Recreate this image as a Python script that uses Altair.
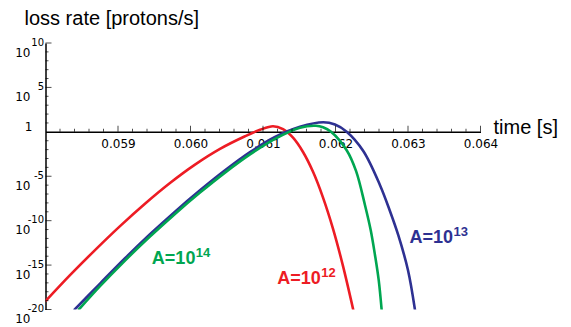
import altair as alt
import pandas as pd

# ---- data (time in s, loss rate as log10 exponent) ----
red_t = [0.058000, 0.058338, 0.058683, 0.059028, 0.059372, 0.059717, 0.060062, 0.060407,
         0.060752, 0.060959, 0.061138, 0.061276, 0.061414, 0.061552, 0.061690, 0.061828,
         0.061966, 0.062103, 0.062246]
red_e = [-19.07, -16.14, -13.31, -10.61, -8.09, -5.76, -3.69, -1.92,
         -0.50, 0.23, 0.63, 0.30, -0.66, -2.27, -4.50, -7.40,
         -10.92, -15.09, -20.08]

blue_t = [0.058393, 0.058752, 0.059097, 0.059441, 0.059786, 0.060131, 0.060476, 0.060821,
          0.061166, 0.061510, 0.061832, 0.061993, 0.062154, 0.062383, 0.062614,
          0.062752, 0.062866, 0.063000, 0.063097]
blue_e = [-20.08, -17.08, -14.23, -11.53, -8.98, -6.58, -4.33, -2.28,
          -0.58, 0.57, 1.08, 0.82, 0.01, -2.16, -6.01,
          -8.94, -11.64, -15.58, -20.08]

green_t = [0.058452, 0.058752, 0.059097, 0.059441, 0.059786, 0.060131, 0.060476, 0.060821,
           0.061166, 0.061510, 0.061731, 0.061828, 0.061938, 0.062154, 0.062283,
           0.062407, 0.062486, 0.062545, 0.062596, 0.062637]
green_e = [-20.08, -17.38, -14.49, -11.79, -9.24, -6.84, -4.59, -2.54,
           -0.79, 0.46, 0.68, 0.51, 0.01, -2.07, -4.40,
           -8.26, -11.08, -13.89, -16.70, -20.08]

series_names = ["A=1e12", "A=1e13", "A=1e14"]
series_colors = ["#ED1C24", "#2E3192", "#00A651"]

ann_t = [0.0611975, 0.0630207, 0.0594670]
ann_e = [-17.08, -12.51, -14.83]
ann_sup = ["12", "13", "14"]

x_major = [0.059, 0.060, 0.061, 0.062, 0.063, 0.064]
y_major_exp = [10, 5, -5, -10, -15, -20]

# ---- build tables ----
rows = []
for name, ts, es in zip(series_names, [red_t, blue_t, green_t], [red_e, blue_e, green_e]):
    for i, (t, e) in enumerate(zip(ts, es)):
        rows.append({"series": name, "t": t, "v": 10.0 ** e, "i": i})
curves = pd.DataFrame(rows)

ann = pd.DataFrame({"series": series_names, "t": ann_t,
                    "v": [10.0 ** e for e in ann_e], "sup": ann_sup})

xmaj = pd.DataFrame({"t": x_major})
xmin = pd.DataFrame({"t": [round(0.058 + 0.0002 * k, 4) for k in range(1, 30) if k % 5 != 0]})
ymaj = pd.DataFrame({"v": [10.0 ** e for e in y_major_exp], "e": [str(e) for e in y_major_exp]})
ymin = pd.DataFrame({"v": [10.0 ** e for e in range(-19, 10) if e % 5 != 0]})

W, H = 435, 266.5
xs = alt.Scale(domain=[0.058, 0.064], nice=False, zero=False)
ys = alt.Scale(type="log", domain=[1e-20, 1e10], nice=False)
cs = alt.Scale(domain=series_names, range=series_colors)

xax = alt.Axis(
    values=x_major, format=".3f", orient="bottom", offset=-(H * 2 / 3),
    ticks=False, tickSize=0, labelPadding=7, labelFlush=False, labelOverlap=False,
    labelFont="DejaVu Sans", labelFontSize=12, labelColor="black",
    domainColor="black", domainWidth=1.5, grid=False,
    title="time [s]", titleFont="Liberation Sans", titleFontSize=20,
    titleFontWeight="normal", titleColor="black", titleAlign="left",
    titleBaseline="alphabetic", titleX=447.5, titleY=2)
yax = alt.Axis(
    orient="left", ticks=False, labels=False, domainColor="black", domainWidth=1.5,
    grid=False, title="loss rate [protons/s]", titleFont="Liberation Sans",
    titleFontSize=20, titleFontWeight="normal", titleColor="black", titleAngle=0,
    titleAlign="left", titleBaseline="alphabetic", titleX=-21.5, titleY=-19)

X = lambda: alt.X("t:Q", scale=xs, axis=xax)
Y = lambda: alt.Y("v:Q", scale=ys, axis=yax)
X0 = lambda: alt.datum(0.058, scale=xs, axis=xax)
Y1 = lambda: alt.datum(1, scale=ys, axis=yax)

lines = alt.Chart(curves).mark_line(strokeWidth=2.6, interpolate="catmull-rom", clip=True).encode(
    x=X(), y=Y(),
    color=alt.Color("series:N", scale=cs, legend=None),
    detail="series:N",
    order="i:Q",
)

xt_major = alt.Chart(xmaj).mark_tick(orient="vertical", size=6, thickness=1, yOffset=-3, color="black").encode(
    x=X(), y=Y1())
xt_minor = alt.Chart(xmin).mark_tick(orient="vertical", size=3, thickness=1, yOffset=-1.5, color="black").encode(
    x=X(), y=Y1())
yt_major = alt.Chart(ymaj).mark_tick(orient="horizontal", size=6, thickness=1, xOffset=3, color="black").encode(
    y=Y(), x=X0())
yt_minor = alt.Chart(ymin).mark_tick(orient="horizontal", size=3, thickness=1, xOffset=1.5, color="black").encode(
    y=Y(), x=X0())

ylab_base = alt.Chart(ymaj).mark_text(align="right", baseline="middle", dx=-15, dy=9.5,
                                      font="DejaVu Sans", fontSize=12, color="black").encode(
    y=Y(), x=X0(), text=alt.value("10"))
ylab_sup = alt.Chart(ymaj).mark_text(align="right", baseline="middle", dx=-1.5, dy=-0.5,
                                     font="DejaVu Sans", fontSize=10, color="black").encode(
    y=Y(), x=X0(), text="e:N")
ylab_one = alt.Chart(pd.DataFrame({"v": [1.0]})).mark_text(
    align="right", baseline="middle", dx=-13, dy=-4.5, font="DejaVu Sans", fontSize=12, color="black").encode(
    y=Y(), x=X0(), text=alt.value("1"))

ann_base = alt.Chart(ann).mark_text(align="left", baseline="alphabetic", font="Liberation Sans",
                                    fontWeight="bold", fontSize=18).encode(
    x=X(), y=Y(),
    color=alt.Color("series:N", scale=cs, legend=None), text=alt.value("A=10"))
ann_sup_l = alt.Chart(ann).mark_text(align="left", baseline="alphabetic", font="Liberation Sans",
                                     fontWeight="bold", fontSize=13, dx=44, dy=-7).encode(
    x=X(), y=Y(),
    color=alt.Color("series:N", scale=cs, legend=None), text="sup:N")

chart = alt.layer(
    lines, xt_major, xt_minor, yt_major, yt_minor, ylab_base, ylab_sup, ylab_one, ann_base, ann_sup_l
).properties(
    width=W, height=H,
    autosize=alt.AutoSizeParams(type="none"),
    padding={"left": 37.5, "top": 35, "right": 82.5, "bottom": 15},
    background="white",
).configure_view(stroke=None)

chart.save("out.html", embed_options={"renderer": "svg", "actions": False})
